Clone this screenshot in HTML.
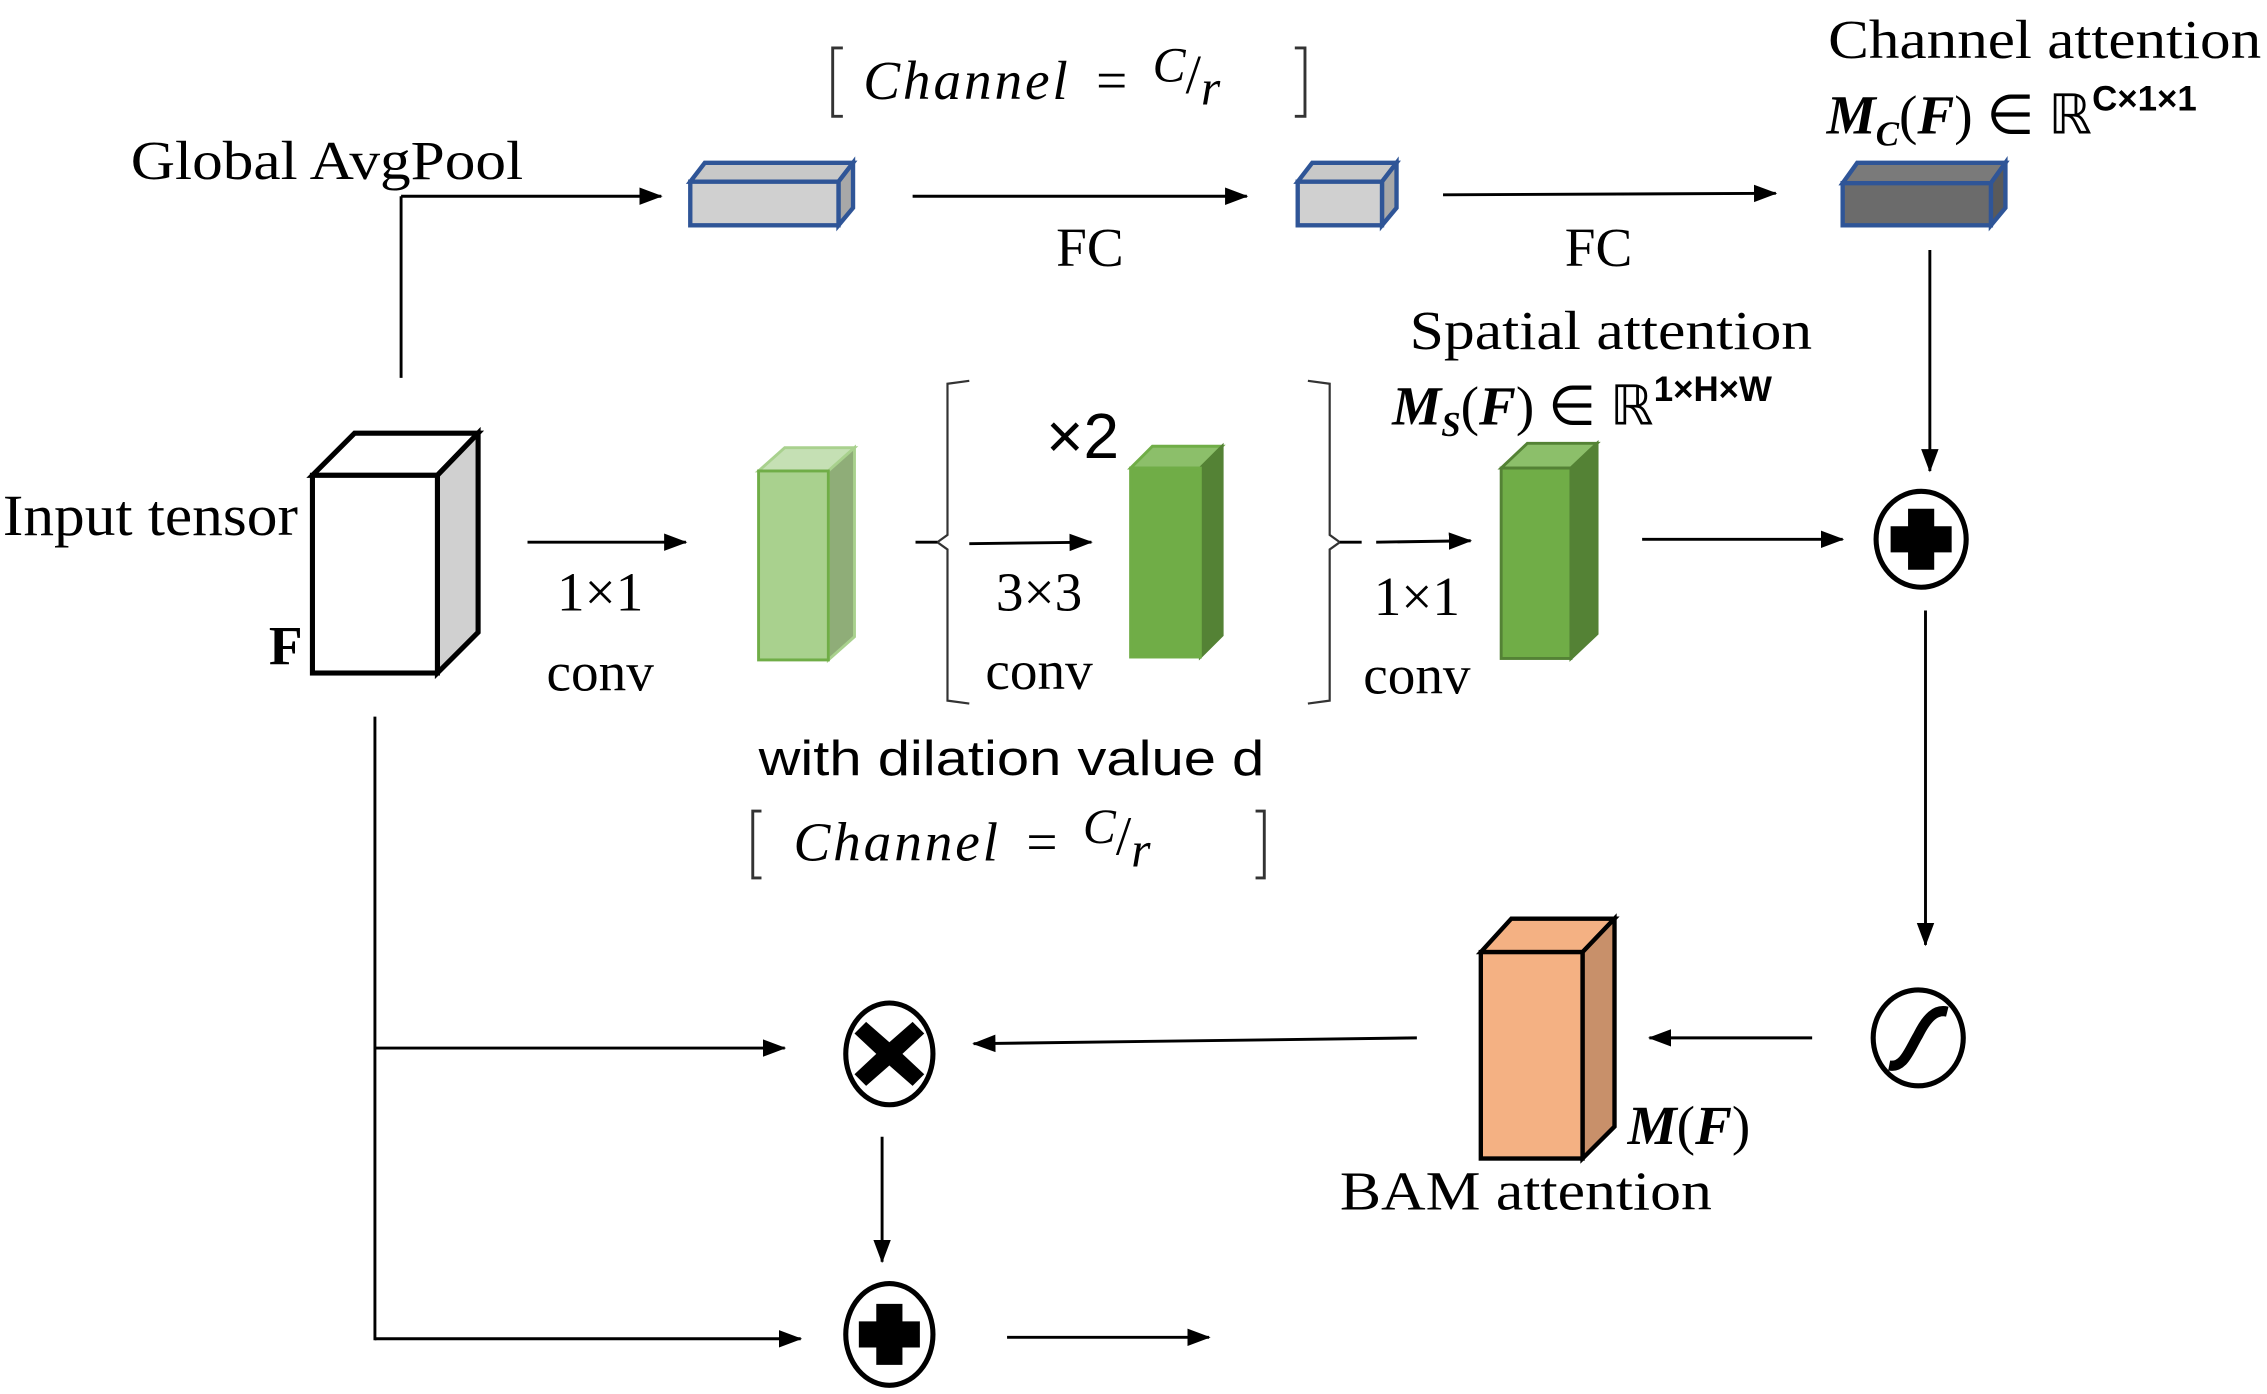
<!DOCTYPE html>
<html><head><meta charset="utf-8"><style>html,body{margin:0;padding:0;background:#fff}svg{display:block}</style></head><body>
<svg width="2267" height="1394" viewBox="0 0 1560 959" preserveAspectRatio="none" xmlns="http://www.w3.org/2000/svg" font-family="Liberation Serif, serif">
<defs><marker id="b" markerWidth="16" markerHeight="16" refX="15" refY="8" orient="auto" markerUnits="userSpaceOnUse" viewBox="0 0 16 16"><path d="M0,2 L16,8 L0,14 z" fill="#000"/></marker></defs>
<g stroke="#000" stroke-width="2" fill="none">
<line x1="276" y1="260" x2="276" y2="135"/>
<line x1="276" y1="135" x2="455" y2="135" marker-end="url(#b)"/>
<line x1="628" y1="135" x2="858" y2="135" marker-end="url(#b)"/>
<line x1="993" y1="134" x2="1222" y2="133" marker-end="url(#b)"/>
<line x1="1328" y1="172" x2="1328" y2="324" marker-end="url(#b)"/>
<line x1="363" y1="373" x2="472" y2="373" marker-end="url(#b)"/>
<line x1="667" y1="374" x2="751" y2="373" marker-end="url(#b)"/>
<line x1="947" y1="373" x2="1012" y2="372" marker-end="url(#b)"/>
<line x1="1130" y1="371" x2="1268" y2="371" marker-end="url(#b)"/>
<line x1="1325" y1="420" x2="1325" y2="650" marker-end="url(#b)"/>
<line x1="1247" y1="714" x2="1135" y2="714" marker-end="url(#b)"/>
<line x1="975" y1="714" x2="670" y2="718" marker-end="url(#b)"/>
<line x1="258" y1="493" x2="258" y2="922"/>
<line x1="258" y1="721" x2="540" y2="721" marker-end="url(#b)"/>
<line x1="258" y1="921" x2="551" y2="921" marker-end="url(#b)"/>
<line x1="607" y1="782" x2="607" y2="868" marker-end="url(#b)"/>
<line x1="693" y1="920" x2="832" y2="920" marker-end="url(#b)"/>
<path d="M667,262 L652,264 L652,368 L645,373 L652,378 L652,482 L667,484" stroke="#333" stroke-width="1.5"/>
<line x1="630" y1="373" x2="645" y2="373"/>
<path d="M900,262 L915,264 L915,368 L922,373 L915,378 L915,482 L900,484" stroke="#333" stroke-width="1.5"/>
<line x1="922" y1="373" x2="937" y2="373"/>
<path d="M580,33 L573,33 L573,80 L580,80" stroke="#333" stroke-width="2"/>
<path d="M891,33 L898,33 L898,80 L891,80" stroke="#333" stroke-width="2"/>
<path d="M524,558 L518,558 L518,604 L524,604" stroke="#333" stroke-width="2"/>
<path d="M864,558 L870,558 L870,604 L864,604" stroke="#333" stroke-width="2"/>
</g>
<g stroke="#2f5597" stroke-width="3">
<polygon points="475,125 485,112 587,112 577,125" fill="#c8c8c8"/>
<polygon points="577,125 587,112 587,143 577,155" fill="#a8a8a8"/>
<rect x="475" y="125" width="102" height="30" fill="#d0d0d0"/>
<polygon points="893,125 903,112 961,112 951,125" fill="#c8c8c8"/>
<polygon points="951,125 961,112 961,143 951,155" fill="#a8a8a8"/>
<rect x="893" y="125" width="58" height="30" fill="#d0d0d0"/>
<polygon points="1268,126 1278,112 1380,112 1370,126" fill="#7a7a7a"/>
<polygon points="1370,126 1380,112 1380,143 1370,155" fill="#5a5a5a"/>
<rect x="1268" y="126" width="102" height="29" fill="#6b6b6b"/>
</g>
<g stroke="#000" stroke-width="3.5">
<polygon points="215,327 244,298 329,298 301,327" fill="#fff"/>
<polygon points="301,327 329,298 329,435 301,463" fill="#d0d0d0"/>
<rect x="215" y="327" width="86" height="136" fill="#fff"/>
</g>
<g stroke-width="2">
<polygon points="522,324 540,308 588,308 570,324" fill="#c5e0b4" stroke="#a9d18e"/>
<polygon points="570,324 588,308 588,438 570,454" fill="#8fad78" stroke="#a9d18e"/>
<rect x="522" y="324" width="48" height="130" fill="#a9d18e" stroke="#70ad47"/>
<polygon points="778,322 793,307 841,307 826,322" fill="#8cbf6a" stroke="#70ad47"/>
<polygon points="826,322 841,307 841,437 826,452" fill="#548235" stroke="#548235"/>
<rect x="778" y="322" width="48" height="130" fill="#70ad47" stroke="#70ad47"/>
<polygon points="1033,322 1051,305 1099,305 1081,322" fill="#8cbf6a" stroke="#548235"/>
<polygon points="1081,322 1099,305 1099,436 1081,453" fill="#548235" stroke="#548235"/>
<rect x="1033" y="322" width="48" height="131" fill="#70ad47" stroke="#548235"/>
</g>
<g stroke="#000" stroke-width="3">
<polygon points="1019,655 1040,632 1111,632 1089,655" fill="#f4b183"/>
<polygon points="1089,655 1111,632 1111,775 1089,797" fill="#c8906a"/>
<rect x="1019" y="655" width="70" height="142" fill="#f4b183"/>
</g>
<g stroke="#000" stroke-width="3.5" fill="#fff">
<ellipse cx="1322" cy="371" rx="31" ry="33"/>
<ellipse cx="1320" cy="714" rx="31" ry="33"/>
<ellipse cx="612" cy="725" rx="30" ry="35"/>
<ellipse cx="612" cy="918" rx="30" ry="35"/>
</g>
<g fill="#000">
<path d="M1313,350 h18 v12 h12 v18 h-12 v12 h-18 v-12 h-12 v-18 h12 z"/>
<path d="M603,897 h18 v12 h12 v18 h-12 v12 h-18 v-12 h-12 v-18 h12 z"/>
<path d="M596,703 l16,14 l16,-14 l8,8 l-15,14 l15,14 l-8,8 l-16,-14 l-16,14 l-8,-8 l15,-14 l-15,-14 z"/>
</g>
<path d="M1300,733 C1310,735 1314,722 1320,712 C1326,700 1332,694 1340,696" stroke="#000" stroke-width="7" fill="none"/>
<g fill="#000" font-size="38">
<text x="90" y="123" textLength="270" lengthAdjust="spacingAndGlyphs">Global AvgPool</text>
<text x="2" y="368" font-size="40" textLength="203" lengthAdjust="spacingAndGlyphs">Input tensor</text>
<text x="185" y="457" font-weight="bold">F</text>
<text x="750" y="183" text-anchor="middle">FC</text>
<text x="1100" y="183" text-anchor="middle">FC</text>
<text x="413" y="420" text-anchor="middle">1×1</text>
<text x="413" y="475" text-anchor="middle">conv</text>
<text x="715" y="420" text-anchor="middle">3×3</text>
<text x="715" y="474" text-anchor="middle">conv</text>
<text x="975" y="423" text-anchor="middle">1×1</text>
<text x="975" y="477" text-anchor="middle">conv</text>
<text x="745" y="315" text-anchor="middle" font-family="Liberation Sans, sans-serif" font-size="44">×2</text>
<text x="1258" y="40" textLength="298" lengthAdjust="spacingAndGlyphs">Channel attention</text>
<text x="1257" y="92"><tspan font-weight="bold" font-style="italic">M</tspan><tspan font-weight="bold" font-style="italic" font-size="24" dy="8">C</tspan><tspan dy="-8">(</tspan><tspan font-weight="bold" font-style="italic">F</tspan>) ∈ ℝ<tspan font-family="Liberation Sans, sans-serif" font-weight="bold" font-size="24" dy="-16">C×1×1</tspan></text>
<text x="970" y="240" textLength="277" lengthAdjust="spacingAndGlyphs">Spatial attention</text>
<text x="958" y="292"><tspan font-weight="bold" font-style="italic">M</tspan><tspan font-weight="bold" font-style="italic" font-size="24" dy="8">S</tspan><tspan dy="-8">(</tspan><tspan font-weight="bold" font-style="italic">F</tspan>) ∈ ℝ<tspan font-family="Liberation Sans, sans-serif" font-weight="bold" font-size="24" dy="-16">1×H×W</tspan></text>
<text x="1120" y="787" font-weight="bold" font-style="italic">M<tspan font-weight="normal" font-style="normal">(</tspan>F<tspan font-weight="normal" font-style="normal">)</tspan></text>
<text x="922" y="832" textLength="256" lengthAdjust="spacingAndGlyphs">BAM attention</text>
<text x="522" y="533" font-family="Liberation Sans, sans-serif" font-size="34" textLength="348" lengthAdjust="spacingAndGlyphs">with dilation value d</text>
<text x="594" y="68" font-style="italic" font-size="38"><tspan letter-spacing="2">Channel</tspan> <tspan font-style="normal" dx="8">=</tspan> <tspan font-size="34" dy="-12" dx="8">C</tspan><tspan font-style="normal" font-size="38" dy="8">/</tspan><tspan font-size="34" dy="8">r</tspan></text>
<text x="546" y="592" font-style="italic" font-size="38"><tspan letter-spacing="2">Channel</tspan> <tspan font-style="normal" dx="8">=</tspan> <tspan font-size="34" dy="-12" dx="8">C</tspan><tspan font-style="normal" font-size="38" dy="8">/</tspan><tspan font-size="34" dy="8">r</tspan></text>
</g>
</svg>
</body></html>
